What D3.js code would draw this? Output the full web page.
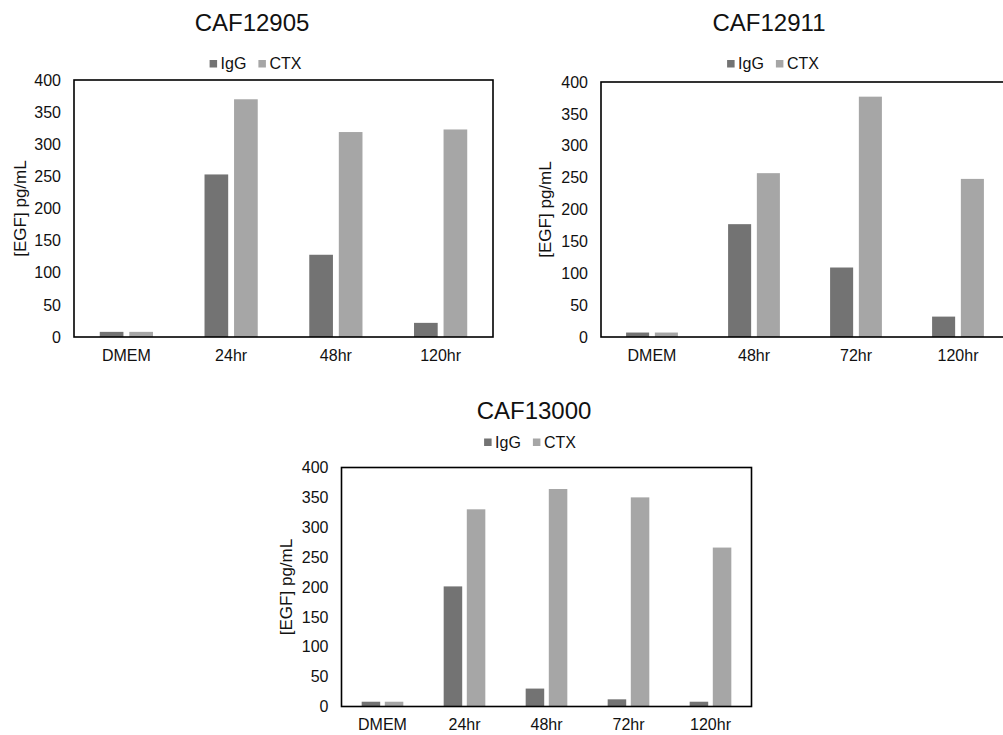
<!DOCTYPE html>
<html><head><meta charset="utf-8">
<script src="https://cdn.jsdelivr.net/npm/d3@7"></script>
<style>
html,body{margin:0;padding:0;background:#fff;}
svg{display:block;font-family:"Liberation Sans",Arial,sans-serif;}
</style></head>
<body>
<svg id="chart" width="1003" height="735"></svg>
<script>
// ---- data ----
const series = ["IgG", "CTX"];
const seriesColors = ["#737373", "#a6a6a6"];
const yTicks = [0, 50, 100, 150, 200, 250, 300, 350, 400];

const titles = ["CAF12905", "CAF12911", "CAF13000"];

const categories1 = ["DMEM", "24hr", "48hr", "120hr"];
const igg1 = [8, 253, 128, 22];
const ctx1 = [8, 370, 319, 323];

const categories2 = ["DMEM", "48hr", "72hr", "120hr"];
const igg2 = [7, 177, 109, 32];
const ctx2 = [7, 257, 377, 248];

const categories3 = ["DMEM", "24hr", "48hr", "72hr", "120hr"];
const igg3 = [8, 201, 30, 12, 8];
const ctx3 = [8, 330, 364, 350, 266];

const yLabel = "[EGF] pg/mL";

// ---- layout ----
const panels = [
  {title: titles[0], cats: categories1, vals: [igg1, ctx1],
   left: 74, top: 80, right: 493, bottom: 337, titleX: 252, titleY: 30.5, legX: 255.5, legY: 63.5, yLabX: 20.5},
  {title: titles[1], cats: categories2, vals: [igg2, ctx2],
   left: 601, top: 82, right: 1009, bottom: 337, titleX: 769, titleY: 30.5, legX: 773, legY: 63.5, yLabX: 545},
  {title: titles[2], cats: categories3, vals: [igg3, ctx3],
   left: 341.5, top: 467.5, right: 751.5, bottom: 706.5, titleX: 534, titleY: 419, legX: 530, legY: 442, yLabX: 286}
];

const svg = d3.select("#chart");

panels.forEach(p => {
  const g = svg.append("g");
  const x = d3.scaleBand().domain(p.cats).range([p.left, p.right]).paddingInner(0).paddingOuter(0);
  const y = d3.scaleLinear().domain([0, 400]).range([p.bottom, p.top]);
  const bw = x.bandwidth();
  const barW = bw * 0.226, gap = bw * 0.056;
  const x1 = d3.scaleBand().domain(series)
    .range([bw / 2 - barW - gap / 2, bw / 2 + barW + gap / 2])
    .paddingInner(gap / (barW + gap)).paddingOuter(0);

  // title
  g.append("text").attr("x", p.titleX).attr("y", p.titleY).attr("text-anchor", "middle")
    .attr("font-size", 24).attr("fill", "#111").text(p.title);

  // bars
  series.forEach((s, si) => {
    g.append("g").selectAll("rect").data(p.cats.map((c, i) => ({c, v: p.vals[si][i]})))
      .join("rect")
      .attr("x", d => x(d.c) + x1(s))
      .attr("width", x1.bandwidth())
      .attr("y", d => y(d.v))
      .attr("height", d => y(0) - y(d.v))
      .attr("fill", seriesColors[si]);
  });

  // frame
  g.append("rect").attr("x", p.left).attr("y", p.top)
    .attr("width", p.right - p.left).attr("height", p.bottom - p.top)
    .attr("fill", "none").attr("stroke", "#000").attr("stroke-width", 1.6);

  // y axis
  const ya = g.append("g").attr("transform", `translate(${p.left},0)`)
    .call(d3.axisLeft(y).tickValues(yTicks).tickSize(0).tickPadding(13));
  ya.select(".domain").remove();
  ya.selectAll("text").attr("font-size", 16).attr("fill", "#111")
    .attr("font-family", "Liberation Sans, Arial, sans-serif");

  // x axis
  const xa = g.append("g").attr("transform", `translate(0,${p.bottom})`)
    .call(d3.axisBottom(x).tickSize(0).tickPadding(12.5));
  xa.select(".domain").remove();
  xa.selectAll("text").attr("font-size", 16).attr("fill", "#111")
    .attr("font-family", "Liberation Sans, Arial, sans-serif");

  // y label
  g.append("text")
    .attr("transform", `translate(${p.yLabX},${(p.top + p.bottom) / 2}) rotate(-90)`)
    .attr("text-anchor", "middle").attr("dy", "0.35em")
    .attr("font-size", 17).attr("fill", "#111").text(yLabel);

  // legend
  const lg = g.append("g");
  let cx = 0;
  const items = [];
  series.forEach((s, si) => {
    const it = lg.append("g");
    it.append("rect").attr("x", cx).attr("y", -3.5).attr("width", 7.5).attr("height", 7.5)
      .attr("fill", seriesColors[si]);
    const t = it.append("text").attr("x", cx + 11).attr("y", 0).attr("dy", "0.35em")
      .attr("font-size", 16).attr("fill", "#111").text(s);
    cx += 11 + t.node().getComputedTextLength() + 12;
  });
  const total = cx - 12;
  lg.attr("transform", `translate(${p.legX - total / 2},${p.legY})`);
});
</script>
</body></html>
